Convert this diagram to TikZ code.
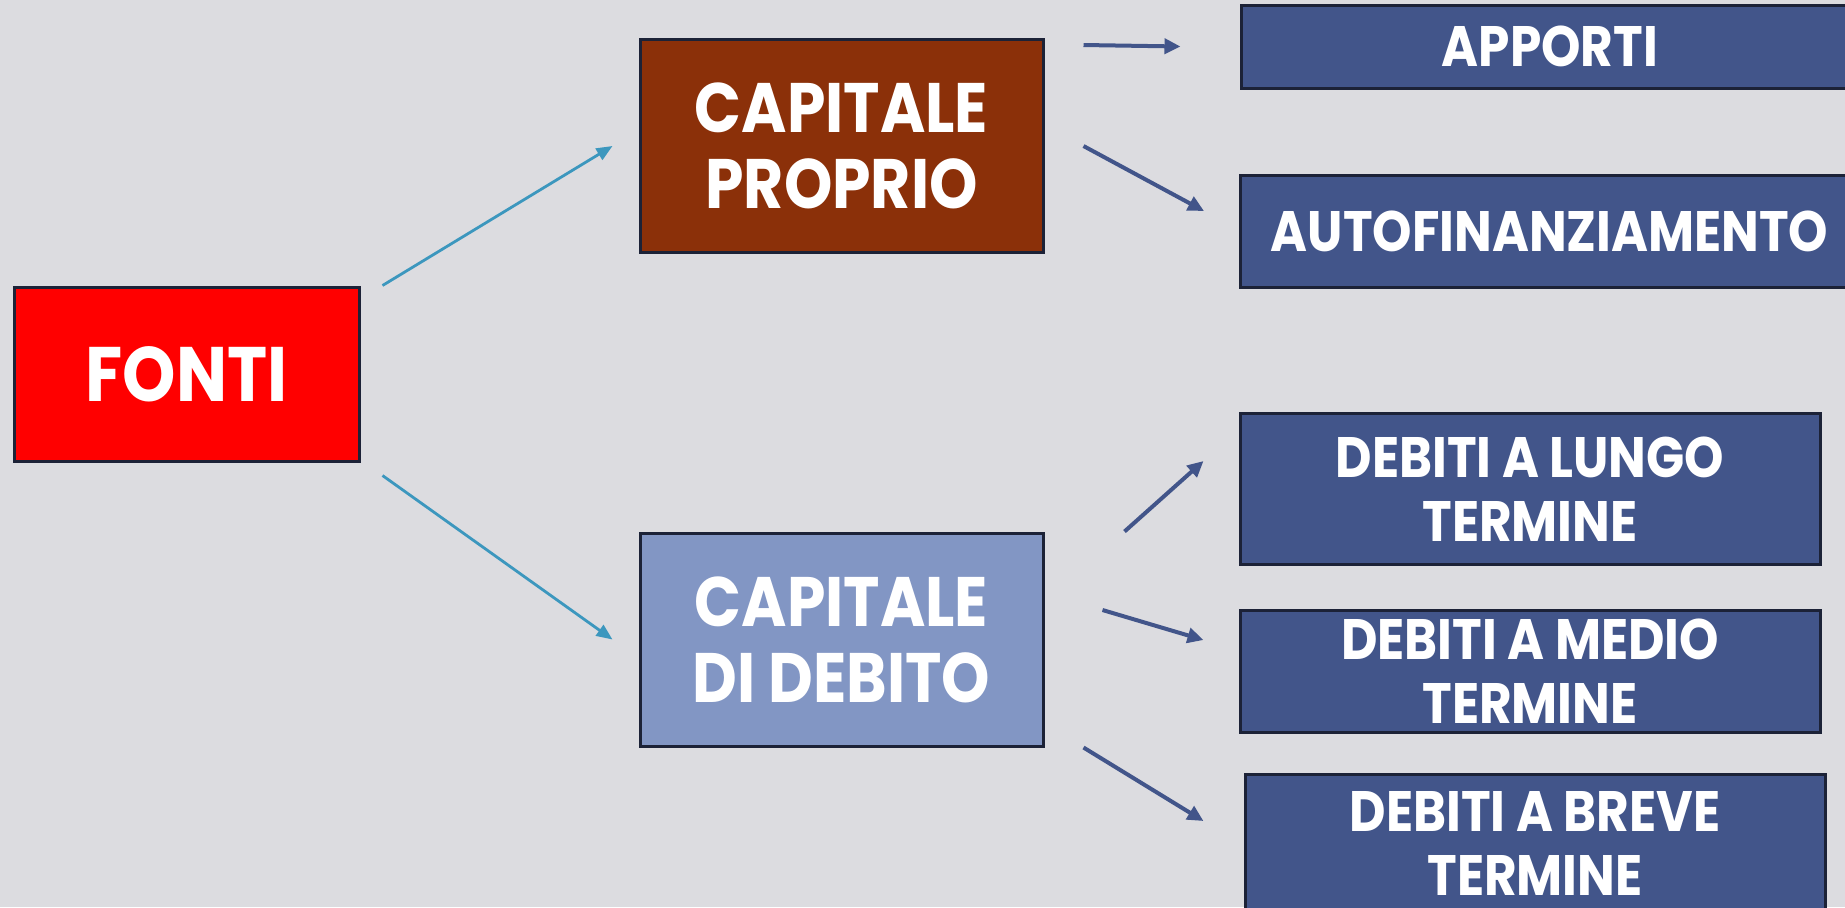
\documentclass[tikz,border=0pt]{standalone}
\usepackage{fontspec}
\newfontfamily\gothic{Poppins}[FakeStretch=0.88]
\usetikzlibrary{arrows.meta}
\definecolor{slidebg}{HTML}{DCDCE0}
\definecolor{fontired}{HTML}{FF0000}
\definecolor{propriobrown}{HTML}{8B3009}
\definecolor{debitoblue}{HTML}{8296C4}
\definecolor{voceblue}{HTML}{42558A}
\definecolor{boxline}{HTML}{1C2237}
\definecolor{arrowteal}{HTML}{3C97BE}

\begin{document}
\begin{tikzpicture}[x=0.5pt,y=-0.5pt,
      fonte/.style={
         rectangle,
         draw=boxline,
         line width=1.5pt,
         text=white,
         align=center,
         inner sep=0pt
      },
      mainbox/.style={
         fonte,
         fill=#1,
         font=\gothic\bfseries\fontsize{35}{38}\selectfont,
         minimum width=201.5pt,
         minimum height=106.5pt
      },
      vocebox/.style={
         fonte,
         fill=voceblue,
         font=\gothic\bfseries\fontsize{28.5}{32}\selectfont
      },
      tip1/.style={-{Triangle[length=8pt,width=6.5pt]},arrowteal,line width=1.4pt},
      tip2/.style={-{Triangle[length=8pt,width=7.5pt]},voceblue,line width=2pt}
    ]
    \fill[slidebg] (0,0) rectangle (1845,907);
    \clip (0,0) rectangle (1845,907);

    \node (fonti) [fonte, fill=fontired, minimum width=172.5pt, minimum height=87pt,
       font=\gothic\bfseries\fontsize{38.6}{42}\selectfont] at (186.5,374) {FONTI};
    \node (proprio) [mainbox=propriobrown] at (841.5,146) {CAPITALE\\PROPRIO};
    \node (debito) [mainbox=debitoblue] at (841.5,639.5) {CAPITALE\\DI DEBITO};

    \node (apporti) [vocebox, minimum width=309pt, minimum height=41.5pt] at (1550,46.5) {APPORTI};
    \node (autofin) [vocebox, minimum width=309pt, minimum height=56pt] at (1549.5,231) {AUTOFINANZIAMENTO};
    \node (lungo) [vocebox, minimum width=290pt, minimum height=75.5pt] at (1530,489) {DEBITI A LUNGO\\TERMINE};
    \node (medio) [vocebox, minimum width=290pt, minimum height=61pt] at (1530,671) {DEBITI A MEDIO\\TERMINE};
    \node (breve) [vocebox, minimum width=290pt, minimum height=69pt] at (1535,843) {DEBITI A BREVE\\TERMINE};

    \draw[tip1] ([xshift=11pt]fonti.north east) -- ([xshift=-13pt]proprio.west);
    \draw[tip1] ([xshift=11pt,yshift=-6.5pt]fonti.south east) -- ([xshift=-13pt]debito.west);

    \draw[tip2] ([xshift=19.5pt,yshift=-3.5pt]proprio.north east) -- ([xshift=-29.5pt]apporti.west);
    \draw[tip2] ([xshift=19.5pt]proprio.east) -- ([xshift=-17.5pt,yshift=10pt]autofin.west);
    \draw[tip2] ([xshift=40pt]debito.north east) -- ([xshift=-17.5pt,yshift=14pt]lungo.west);
    \draw[tip2] ([xshift=29pt,yshift=14.75pt]debito.east) -- ([xshift=-17.5pt,yshift=15.5pt]medio.west);
    \draw[tip2] ([xshift=19.5pt]debito.south east) -- ([xshift=-20pt,yshift=11pt]breve.west);
\end{tikzpicture}
\end{document}
